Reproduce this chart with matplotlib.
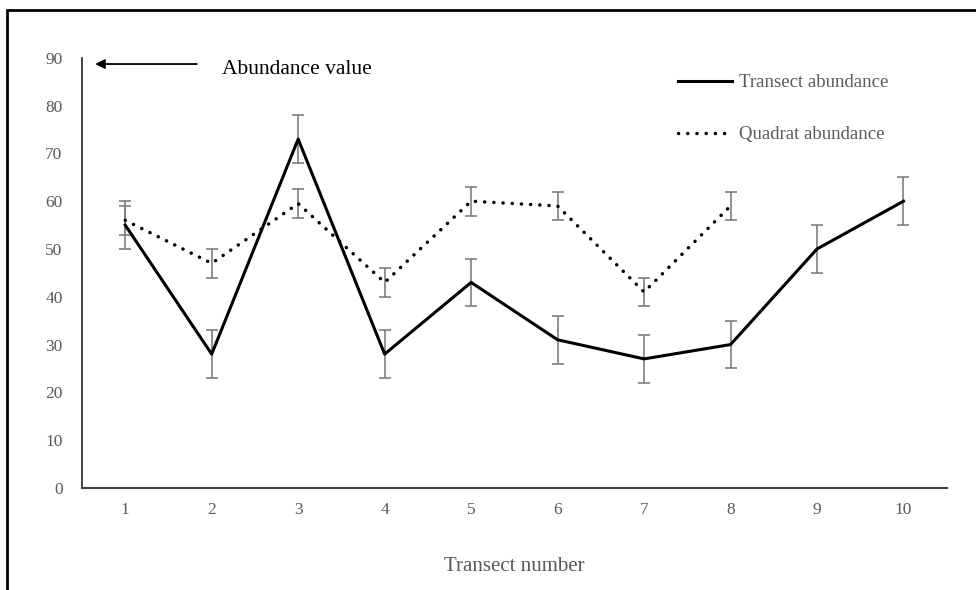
import matplotlib.pyplot as plt
from matplotlib.patches import Rectangle

plt.rcParams['font.family'] = ['Liberation Serif', 'DejaVu Serif']

# transect numbers and abundance readings
transects = [1, 2, 3, 4, 5, 6, 7, 8, 9, 10]
transect_abundance = [55, 28, 73, 28, 43, 31, 27, 30, 50, 60]
transect_err = [5, 5, 5, 5, 5, 5, 5, 5, 5, 5]

quadrats = [1, 2, 3, 4, 5, 6, 7, 8]
quadrat_abundance = [56, 47, 59.5, 43, 60, 59, 41, 59]
quadrat_err = [3, 3, 3, 3, 3, 3, 3, 3]

y_ticks = [0, 10, 20, 30, 40, 50, 60, 70, 80, 90]

grey = '#595959'
bar_grey = '#7f7f7f'
dotted = (0, (0.05, 2.6))

fig = plt.figure(figsize=(9.76, 5.9), dpi=100)
ax = fig.add_axes([0.084, 0.173, 0.886, 0.729])

# outer frame of the figure (runs off the right and bottom edge)
fig.patches.append(Rectangle((0.0072, -0.1), 1.2, 1.083, transform=fig.transFigure,
                             fill=False, edgecolor='black', linewidth=2))

# error bars first, lines on top
ax.errorbar(transects, transect_abundance, yerr=transect_err, fmt='none',
            ecolor=bar_grey, elinewidth=1.2, capsize=4, capthick=1.2, zorder=2)
ax.errorbar(quadrats, quadrat_abundance, yerr=quadrat_err, fmt='none',
            ecolor=bar_grey, elinewidth=1.2, capsize=4, capthick=1.2, zorder=2)
ax.plot(transects, transect_abundance, color='black', linewidth=2.2,
        label='Transect abundance', zorder=3)
ax.plot(quadrats, quadrat_abundance, color='black', linewidth=2.5,
        linestyle=dotted, dash_capstyle='round', label='Quadrat abundance', zorder=3)

ax.set_xlim(0.5, 10.5)
ax.set_ylim(0, 90)
ax.set_xticks(transects)
ax.set_yticks(y_ticks)
ax.tick_params(axis='both', length=0, labelsize=12.5, labelcolor=grey)
ax.tick_params(axis='x', pad=10)
ax.tick_params(axis='y', pad=14)

for side in ['top', 'right']:
    ax.spines[side].set_visible(False)
ax.spines['left'].set_color('#262626')
ax.spines['bottom'].set_color('#404040')
ax.spines['left'].set_linewidth(1.2)
ax.spines['bottom'].set_linewidth(1.5)

ax.set_xlabel('Transect number', fontsize=15, color=grey, labelpad=28)

leg = ax.legend(loc='upper left', bbox_to_anchor=(0.689, 0.962), frameon=False,
                fontsize=13.5, handlelength=2.9, handletextpad=0.35,
                labelspacing=1.85, borderpad=0, borderaxespad=0)
for t in leg.get_texts():
    t.set_color(grey)

ax.annotate('', xy=(0.62, 88.7), xytext=(1.86, 88.7), xycoords='data',
            arrowprops=dict(arrowstyle='-|>', color='black', lw=1.3,
                            mutation_scale=14), annotation_clip=False)
ax.text(2.12, 87.6, 'Abundance value', fontsize=15.5, color='black',
        va='center', ha='left')

fig.savefig('out.png', dpi=100)
